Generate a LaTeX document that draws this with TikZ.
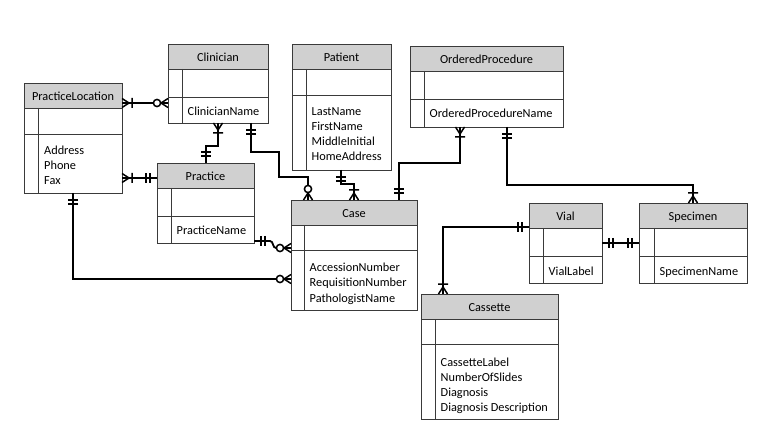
\documentclass[tikz,border=0pt]{standalone}
\usepackage{fontspec}
\setmainfont{Carlito}
\usetikzlibrary{calc,fit}
\definecolor{hdrgray}{HTML}{D0D0D0}
\definecolor{boxgray}{HTML}{3A3A3A}
\newcommand\ERentity[9]{%
  \fill[hdrgray] (#2,#3) rectangle (#4,#5);
  \draw[boxline] (#2,#5) -- (#4,#5) (#2,#6) -- (#4,#6) (#8,#5) -- (#8,#7);
  \node[boxline, draw, fit={(#2,#3) (#4,#7)}] (#1) {};
  \node[etitle] (#1-title) at ({(#2+#4)/2},{(#3+#5)/2+5}) {#9};
}
\begin{document}
\begin{tikzpicture}[x=1pt,y=-1pt,
  boxline/.style={line width=0.9pt, draw=boxgray, inner sep=0pt, outer sep=0pt},
  etitle/.style={anchor=base, inner sep=0pt, font=\fontsize{12.3}{14}\selectfont},
  attr/.style={anchor=base west, inner sep=0pt, font=\fontsize{12.3}{14}\selectfont},
  conn/.style={line width=1.8pt, black},
  mk/.style={line width=1.5pt, black},
  pics/crowone/.style={code={\draw[mk] (0,-4.5) -- (7,0) -- (0,4.5) (10,-5) -- (10,5);}},
  pics/crowzero/.style={code={\draw[mk] (0,-4.5) -- (7,0) -- (0,4.5); \draw[mk, fill=white] (11,0) circle (3.6);}},
  pics/onlyone/.style={code={\draw[mk] (7,-5) -- (7,5) (11,-5) -- (11,5);}}
]
\useasboundingbox (0,0) rectangle (775,435);

% entities: name, x1, y1, x2, header bottom, key bottom, y2, column x, title
\ERentity{pl}{24}{83}{122}{108}{134}{193}{38}{PracticeLocation}
\node[attr] (pl-a1) at (44,155) {Address};
\node[attr] (pl-a2) at (44,170) {Phone};
\node[attr] (pl-a3) at (44,185) {Fax};

\ERentity{cl}{168}{44}{268}{69}{97}{123}{182}{Clinician}
\node[attr] (cl-a1) at (187.5,116) {ClinicianName};

\ERentity{pa}{292}{44}{391}{69}{95}{170}{306}{Patient}
\node[attr] (pa-a1) at (311.5,116) {LastName};
\node[attr] (pa-a2) at (311.5,131) {FirstName};
\node[attr] (pa-a3) at (311.5,146) {MiddleInitial};
\node[attr] (pa-a4) at (311.5,161) {HomeAddress};

\ERentity{op}{410}{46}{563}{71}{99}{127}{424}{OrderedProcedure}
\node[attr] (op-a1) at (429.5,118) {OrderedProcedureName};

\ERentity{pr}{157}{163}{254}{188}{216}{243}{171}{Practice}
\node[attr] (pr-a1) at (176.5,235) {PracticeName};

\ERentity{ca}{291}{200}{417}{225}{250}{310}{304}{Case}
\node[attr] (ca-a1) at (309.5,272) {AccessionNumber};
\node[attr] (ca-a2) at (309.5,287) {RequisitionNumber};
\node[attr] (ca-a3) at (309.5,302) {PathologistName};

\ERentity{vi}{529}{203}{602}{228}{256}{283}{543}{Vial}
\node[attr] (vi-a1) at (548.5,275) {VialLabel};

\ERentity{sp}{639}{203}{747}{228}{256}{283}{654}{Specimen}
\node[attr] (sp-a1) at (659.5,275) {SpecimenName};

\ERentity{cs}{421}{294}{558}{319}{344}{419}{435}{Cassette}
\node[attr] (cs-a1) at (440.5,366) {CassetteLabel};
\node[attr] (cs-a2) at (440.5,381) {NumberOfSlides};
\node[attr] (cs-a3) at (440.5,396) {Diagnosis};
\node[attr] (cs-a4) at (440.5,411) {Diagnosis Description};

% attachment points
\coordinate (pl-r1) at ($(pl.north east)+(0,20)$);
\coordinate (pl-r2) at ($(pl.north east)+(0,95)$);
\coordinate (pl-b)  at ($(pl.south west)+(49,0)$);
\coordinate (cl-l)  at ($(cl.north west)+(0,59)$);
\coordinate (cl-b1) at ($(cl.south west)+(50,0)$);
\coordinate (cl-b2) at ($(cl.south west)+(83,0)$);
\coordinate (pr-t)  at ($(pr.north west)+(49,0)$);
\coordinate (pr-l)  at ($(pr.north west)+(0,15)$);
\coordinate (pr-r)  at ($(pr.north east)+(0,78)$);
\coordinate (pa-b)  at ($(pa.south west)+(49,0)$);
\coordinate (op-b1) at ($(op.south west)+(50,0)$);
\coordinate (op-b2) at ($(op.south west)+(97,0)$);
\coordinate (ca-t1) at ($(ca.north west)+(17,0)$);
\coordinate (ca-t2) at ($(ca.north west)+(63,0)$);
\coordinate (ca-t3) at ($(ca.north west)+(108,0)$);
\coordinate (ca-l1) at ($(ca.north west)+(0,48)$);
\coordinate (ca-l2) at ($(ca.north west)+(0,79)$);
\coordinate (vi-l)  at ($(vi.north west)+(0,24)$);
\coordinate (vi-r)  at ($(vi.north east)+(0,40)$);
\coordinate (sp-t)  at ($(sp.north west)+(54,0)$);
\coordinate (sp-l)  at ($(sp.north west)+(0,40)$);
\coordinate (cs-t)  at ($(cs.north west)+(22,0)$);

% connectors
\draw[conn] (pl-r1) -- (cl-l);
\draw[conn] (pl-r2) -- (pr-l);
\draw[conn] (cl-b1) -- ++(0,23) -| (pr-t);
\draw[conn] (cl-b2) -- ++(0,29) -- ++(28,0) -- ++(0,25) -| (ca-t1);
\draw[conn] (pa-b) -- ++(0,14) -| (ca-t2);
\draw[conn] (op-b1) -- ++(0,36) -| (ca-t3);
\draw[conn] (op-b2) -- ++(0,58) -| (sp-t);
\draw[conn] (pr-r) -- ++(16,0) to[out=0,in=180] ++(6,7) -- (ca-l1);
\draw[conn] (pl-b) |- (ca-l2);
\draw[conn] (vi-l) -| (cs-t);
\draw[conn] (vi-r) -- (sp-l);

% end markers
\pic[rotate=0] at (pl-r1) {crowone};
\pic[rotate=180] at (cl-l) {crowzero};
\pic[rotate=0] at (pl-r2) {crowone};
\pic[rotate=180] at (pr-l) {onlyone};
\pic[rotate=-90] at (cl-b1) {crowone};
\pic[rotate=90] at (pr-t) {onlyone};
\pic[rotate=-90] at (cl-b2) {onlyone};
\pic[rotate=90] at (ca-t1) {crowzero};
\pic[rotate=-90] at (pa-b) {onlyone};
\pic[rotate=90] at (ca-t2) {crowone};
\pic[rotate=-90] at (op-b1) {crowone};
\pic[rotate=90] at (ca-t3) {onlyone};
\pic[rotate=-90] at (op-b2) {onlyone};
\pic[rotate=90] at (sp-t) {crowone};
\pic[rotate=0] at (pr-r) {onlyone};
\pic[rotate=180] at (ca-l1) {crowzero};
\pic[rotate=-90] at (pl-b) {onlyone};
\pic[rotate=180] at (ca-l2) {crowzero};
\pic[rotate=180] at (vi-l) {onlyone};
\pic[rotate=90] at (cs-t) {crowone};
\pic[rotate=0] at (vi-r) {onlyone};
\pic[rotate=180] at (sp-l) {onlyone};
\end{tikzpicture}
\end{document}
